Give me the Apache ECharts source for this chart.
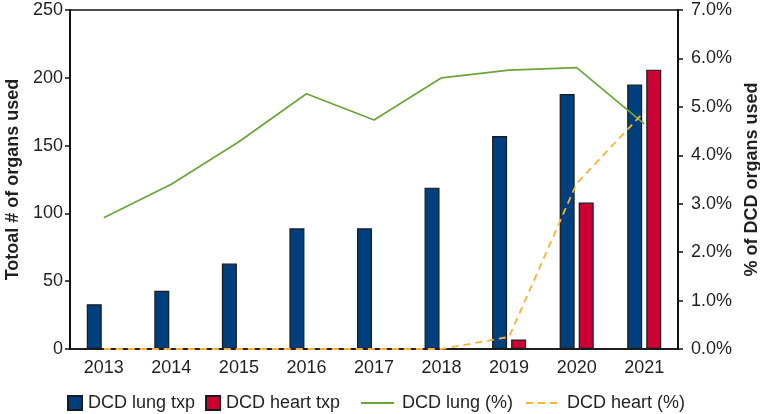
<!DOCTYPE html>
<html>
<head>
<meta charset="utf-8">
<script src="https://cdn.jsdelivr.net/npm/echarts@6/dist/echarts.min.js"></script>
<style>
html,body{margin:0;padding:0;background:#fff;}
#chart{width:760px;height:414px;}
</style>
</head>
<body>
<div id="chart"></div>
<script>
const years = ['2013','2014','2015','2016','2017','2018','2019','2020','2021'];
const lungTxp = [33, 43, 63, 89, 89, 119, 157, 188, 195];
const heartTxp = [null, null, null, null, null, null, 7, 108, 206];
const lungPct = [2.71, 3.40, 4.28, 5.27, 4.73, 5.60, 5.76, 5.81, 4.65];
const heartPct = [0, 0, 0, 0, 0, 0, 0.25, 3.42, 4.90];
const leftTicks = [0, 50, 100, 150, 200, 250];
const rightTicks = [0, 1, 2, 3, 4, 5, 6, 7];

const FONT = 'Liberation Sans';
const TXT = '#231f20';
const FS = 18;
const chart = echarts.init(document.getElementById('chart'), null, {renderer: 'canvas'});
chart.setOption({
  animation: false,
  textStyle: {fontFamily: FONT, color: TXT},
  grid: {left: 70, right: 82, top: 10, bottom: 65, containLabel: false, outerBoundsMode: 'none',
    show: true, borderColor: '#111', borderWidth: 1.5, backgroundColor: 'transparent'},
  legend: [
    {
      data: ['DCD lung txp', 'DCD heart txp'],
      left: 62, top: 389,
      icon: 'rect',
      itemWidth: 14, itemHeight: 14, itemGap: 10,
      textStyle: {fontFamily: FONT, fontSize: FS, color: TXT, padding: [0, 0, 0, 1]}
    },
    {
      data: ['DCD lung (%)', 'DCD heart (%)'],
      left: 355, top: 389,
      itemWidth: 33, itemHeight: 14, itemGap: 12,
      itemStyle: {color: 'transparent', borderWidth: 0, opacity: 0},
      textStyle: {fontFamily: FONT, fontSize: FS, color: TXT, padding: [0, 0, 0, 3]}
    }
  ],
  xAxis: {
    type: 'category',
    data: years,
    axisLine: {lineStyle: {color: '#111', width: 1.5}},
    axisTick: {show: false},
    axisLabel: {fontFamily: FONT, fontSize: FS, color: TXT, margin: 10},
    splitLine: {show: false}
  },
  yAxis: [
    {
      type: 'value',
      min: leftTicks[0], max: leftTicks[leftTicks.length - 1], interval: 50,
      name: 'Totoal # of organs used',
      nameLocation: 'middle', nameRotate: 90, nameGap: 46,
      nameTextStyle: {fontFamily: FONT, fontSize: FS, fontWeight: 'bold', color: TXT},
      axisLine: {show: true, lineStyle: {color: '#111', width: 2}},
      axisTick: {show: true, length: 5, lineStyle: {color: '#111', width: 1.5}},
      axisLabel: {fontFamily: FONT, fontSize: FS, color: TXT, margin: 7},
      splitLine: {show: false}
    },
    {
      type: 'value',
      min: rightTicks[0], max: rightTicks[rightTicks.length - 1], interval: 1,
      position: 'right',
      name: '% of DCD organs used',
      nameLocation: 'middle', nameRotate: 90, nameGap: 53,
      nameTextStyle: {fontFamily: FONT, fontSize: FS, fontWeight: 'bold', color: TXT},
      axisLine: {show: true, lineStyle: {color: '#111', width: 2}},
      axisTick: {show: true, length: 5, lineStyle: {color: '#111', width: 1.5}},
      axisLabel: {fontFamily: FONT, fontSize: FS, color: TXT, margin: 13,
        formatter: v => v.toFixed(1) + '%'},
      splitLine: {show: false}
    }
  ],
  series: [
    {
      name: 'DCD lung txp', type: 'bar', yAxisIndex: 0, data: lungTxp,
      barWidth: 15, barGap: '27%',
      itemStyle: {color: '#003f7d', borderColor: '#1a1a1a', borderWidth: 1.2},
      z: 2
    },
    {
      name: 'DCD heart txp', type: 'bar', yAxisIndex: 0, data: heartTxp,
      barWidth: 15, barGap: '27%',
      itemStyle: {color: '#cc0033', borderColor: '#1a1a1a', borderWidth: 1.2},
      z: 2
    },
    {
      name: 'DCD lung (%)', type: 'line', yAxisIndex: 1, data: lungPct,
      symbol: 'none', lineStyle: {color: '#6aa636', width: 1.7},
      itemStyle: {color: '#6aa636'},
      z: 5
    },
    {
      name: 'DCD heart (%)', type: 'line', yAxisIndex: 1, data: heartPct,
      symbol: 'none', lineStyle: {color: '#f8b334', width: 1.8, type: [7, 5]},
      itemStyle: {color: '#f8b334'},
      z: 6
    }
  ]
});
</script>
</body>
</html>
